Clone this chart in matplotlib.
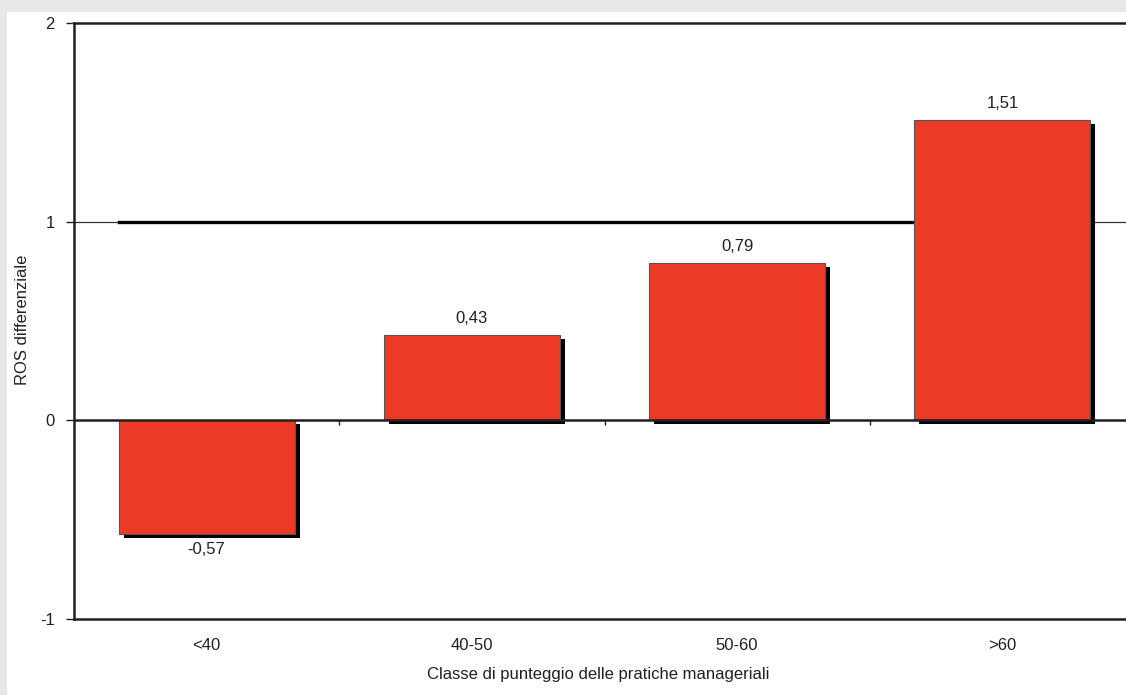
import numpy as np
import matplotlib.pyplot as plt
from matplotlib.patches import Rectangle

plt.rcParams['font.family'] = ['Liberation Sans', 'DejaVu Sans']

# data
classes = ['<40', '40-50', '50-60', '>60']
ros_diff = [-0.57, 0.43, 0.79, 1.51]
ref_level = 1
y_ticks = [-1, 0, 1, 2]

bar_color = '#ec3a26'
bg_gray = '#e6e7e9'
bar_w = 0.663

fig = plt.figure(figsize=(11.26, 6.95), dpi=100, facecolor=bg_gray)
# white panel behind the chart
fig.patches.append(Rectangle((7 / 1126, 0), 1, 1 - 12 / 695, transform=fig.transFigure,
                             facecolor='white', edgecolor='none', zorder=-10))

ax = fig.add_axes([74 / 1126, 1 - 619 / 695, 1061 / 1126, 596 / 695])
ax.set_facecolor('none')
x = np.arange(len(classes))

# thin gridline at 1 and the thick reference line across the bars
ax.axhline(ref_level, color='#333333', lw=0.9, zorder=1)
ax.plot([x[0] - bar_w / 2, x[-1] + bar_w / 2], [ref_level, ref_level], color='black', lw=2.4, zorder=2)

# shadows under the bars
dx, dy = 0.019, 0.02
for xi, v in zip(x, ros_diff):
    ax.add_patch(Rectangle((xi - bar_w / 2 + dx, -dy), bar_w, v, facecolor='black',
                           edgecolor='none', zorder=3))
ax.bar(x, ros_diff, width=bar_w, color=bar_color, edgecolor='#555555', lw=0.8, zorder=4)

# zero line with small ticks between categories
ax.axhline(0, color='#231f20', lw=1.8, zorder=5)
ax.vlines([0.5, 1.5, 2.5], -0.025, 0, color='#231f20', lw=1, zorder=5)

for xi, v in zip(x, ros_diff):
    lbl = ('%.2f' % v).replace('.', ',')
    if v >= 0:
        ax.text(xi, v + 0.045, lbl, ha='center', va='bottom', fontsize=12, color='#231f20')
    else:
        ax.text(xi, v - 0.04, lbl, ha='center', va='top', fontsize=12, color='#231f20')

ax.set_xlim(-0.5, 3.5)
ax.set_ylim(-1, 2)
ax.set_yticks(y_ticks)
ax.set_yticklabels([str(t) for t in y_ticks], fontsize=12, color='#231f20')
ax.set_xticks(x)
ax.set_xticklabels(classes, fontsize=12, color='#231f20')
ax.tick_params(axis='x', length=0, pad=14)
ax.tick_params(axis='y', length=6, width=1, color='#231f20', pad=8)
for s in ['left', 'bottom', 'top']:
    ax.spines[s].set_linewidth(1.8)
    ax.spines[s].set_color('#231f20')
ax.spines['right'].set_visible(False)

fig.text(23 / 1126, 1 - 320 / 695, 'ROS differenziale', rotation=90, ha='center', va='center',
         fontsize=12, color='#231f20')
fig.text(598 / 1126, 1 - 674 / 695, 'Classe di punteggio delle pratiche manageriali',
         ha='center', va='center', fontsize=12, color='#231f20')

fig.savefig('out.png', dpi=100, facecolor=fig.get_facecolor())
